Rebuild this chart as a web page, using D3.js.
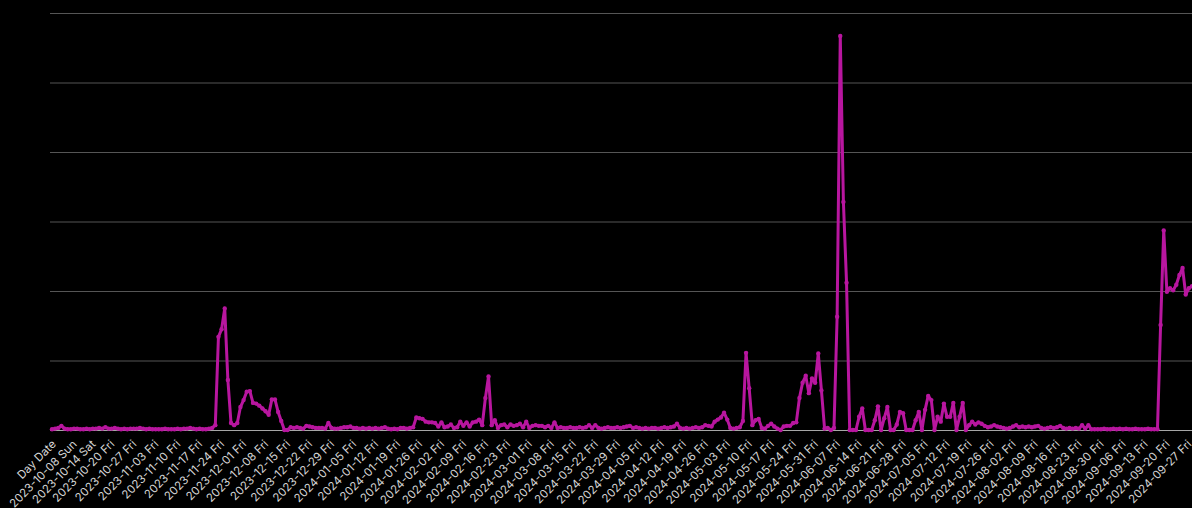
<!DOCTYPE html>
<html>
<head>
<meta charset="utf-8">
<script src="https://cdn.jsdelivr.net/npm/d3@7"></script>
<style>
  html, body { margin: 0; padding: 0; background: #000; overflow: hidden; }
  svg { display: block; }
</style>
</head>
<body>
<svg id="chart" width="1192" height="508"></svg>
<script>
// Daily counts, one value per day starting from startDay
const startDay = "2023-09-30";
const sep2023 = [1];
const oct2023 = [2,3,6,2,1,1,2,2,1,1,2,1,2,2,3,2,4,2,2,3,2,1,2,1,2,2,2,3,2,1,2];
const nov2023 = [1,1,1,1,2,1,1,1,2,1,2,2,3,2,1,2,1,1,2,3,7,134,145,175,72,10,7,10,33,43];
const dec2023 = [55,56,39,38,35,31,27,22,44,44,26,13,0,0,4,3,4,3,2,6,5,4,3,3,3,2,10,3,2,2,3];
const jan2024 = [4,4,5,3,3,2,3,2,3,2,3,2,3,4,2,1,2,1,3,3,2,3,4,18,17,16,12,11,11,10,5];
const feb2024 = [11,4,5,8,3,4,12,6,11,5,11,12,15,7,46,77,7,14,3,7,8,4,8,6,7,9,4,12,3];
const mar2024 = [6,7,6,6,4,6,3,11,3,4,3,3,4,3,3,4,3,4,7,3,7,3,2,3,4,3,3,4,3,4,5];
const apr2024 = [6,3,4,3,2,3,2,3,3,2,3,4,3,4,5,9,3,2,3,2,3,4,3,4,7,6,5,12,15,18];
const may2024 = [25,15,3,2,3,4,13,111,60,7,14,16,3,2,6,9,5,2,0,5,6,6,10,11,46,68,78,53,74,68,110];
const jun2024 = [57,2,3,0,3,163,567,328,212,0,0,0,19,31,0,0,0,14,34,0,17,33,0,0,8,26,24,0,0,0];
const jul2024 = [14,26,0,29,49,43,0,19,12,38,19,19,39,0,19,39,0,7,12,8,11,9,6,4,5,7,5,4,3,2,3];
const aug2024 = [5,7,4,5,4,5,4,5,6,3,2,3,4,3,4,6,3,2,3,2,3,2,7,2,7,1,1,1,1,2,1];
const sep2024 = [1,2,1,2,1,2,1,1,2,1,1,1,2,1,1,1,151,287,199,204,201,209,223,233,195,204,207];

// Axis text
const axisTitle = "Day Date";
const tickLabels = [
  "2023-10-08 Sun","2023-10-14 Sat","2023-10-20 Fri","2023-10-27 Fri","2023-11-03 Fri",
  "2023-11-10 Fri","2023-11-17 Fri","2023-11-24 Fri","2023-12-01 Fri","2023-12-08 Fri",
  "2023-12-15 Fri","2023-12-22 Fri","2023-12-29 Fri","2024-01-05 Fri","2024-01-12 Fri",
  "2024-01-19 Fri","2024-01-26 Fri","2024-02-02 Fri","2024-02-09 Fri","2024-02-16 Fri",
  "2024-02-23 Fri","2024-03-01 Fri","2024-03-08 Fri","2024-03-15 Fri","2024-03-22 Fri",
  "2024-03-29 Fri","2024-04-05 Fri","2024-04-12 Fri","2024-04-19 Fri","2024-04-26 Fri",
  "2024-05-03 Fri","2024-05-10 Fri","2024-05-17 Fri","2024-05-24 Fri","2024-05-31 Fri",
  "2024-06-07 Fri","2024-06-14 Fri","2024-06-21 Fri","2024-06-28 Fri","2024-07-05 Fri",
  "2024-07-12 Fri","2024-07-19 Fri","2024-07-26 Fri","2024-08-02 Fri","2024-08-09 Fri",
  "2024-08-16 Fri","2024-08-23 Fri","2024-08-30 Fri","2024-09-06 Fri","2024-09-13 Fri",
  "2024-09-20 Fri","2024-09-27 Fri"
];
const yTicks = [0, 100, 200, 300, 400, 500, 600];

const parseDay = d3.utcParse("%Y-%m-%d");
const values = [].concat(sep2023, oct2023, nov2023, dec2023, jan2024, feb2024,
  mar2024, apr2024, may2024, jun2024, jul2024, aug2024, sep2024);
const start = parseDay(startDay);
const data = values.map((v, i) => ({ date: d3.utcDay.offset(start, i), value: v }));

const W = 1192, H = 508;
const plotLeft = 52, plotRight = 1192, plotTop = 13, plotBottom = 430;
const lineColor = "#b8169f";
const labelFont = "Inter, 'Open Sans', sans-serif";
const labelSize = 11.5;
const labelColor = "#d6d6d6";

const svg = d3.select("#chart");
svg.append("rect").attr("width", W).attr("height", H).attr("fill", "#000");

const x = d3.scaleUtc().domain(d3.extent(data, d => d.date)).range([plotLeft, plotRight]);
const y = d3.scaleLinear().domain([0, 600]).range([plotBottom, plotTop]);

// Horizontal gridlines
const grid = svg.append("g")
  .attr("transform", `translate(${plotLeft - 2},0)`)
  .call(d3.axisLeft(y).tickValues(yTicks).tickSize(-(W - plotLeft + 2)).tickFormat(""));
grid.select(".domain").remove();
grid.selectAll(".tick line")
  .attr("stroke", d => d === 0 ? "#a6a6a6" : "#555")
  .attr("stroke-width", 1.2);

// Date axis with rotated labels
const tickDates = tickLabels.map(t => parseDay(t.slice(0, 10)));
const xAxis = svg.append("g")
  .attr("transform", `translate(0,${plotBottom})`)
  .call(d3.axisBottom(x).tickValues(tickDates).tickSize(0)
    .tickFormat((d, i) => tickLabels[i]));
xAxis.select(".domain").remove();
xAxis.selectAll(".tick text")
  .attr("fill", labelColor)
  .attr("font-family", labelFont)
  .attr("font-size", labelSize)
  .attr("text-anchor", "end")
  .attr("dy", "0.35em")
  .attr("y", 0)
  .attr("transform", "translate(-3,12) rotate(-45)");

// Axis title, set in line with the tick labels
svg.append("text")
  .attr("transform", `translate(${x(start) + 2},${plotBottom + 12}) rotate(-45)`)
  .attr("text-anchor", "end")
  .attr("dy", "0.35em")
  .attr("fill", labelColor)
  .attr("font-family", labelFont)
  .attr("font-size", labelSize)
  .text(axisTitle);

// Series line and day markers
svg.append("path")
  .datum(data)
  .attr("fill", "none")
  .attr("stroke", lineColor)
  .attr("stroke-width", 3)
  .attr("stroke-linejoin", "round")
  .attr("d", d3.line().x(d => x(d.date)).y(d => y(d.value)));

svg.append("g").selectAll("circle")
  .data(data)
  .join("circle")
  .attr("cx", d => x(d.date))
  .attr("cy", d => y(d.value))
  .attr("r", 2.2)
  .attr("fill", lineColor);
</script>
</body>
</html>
